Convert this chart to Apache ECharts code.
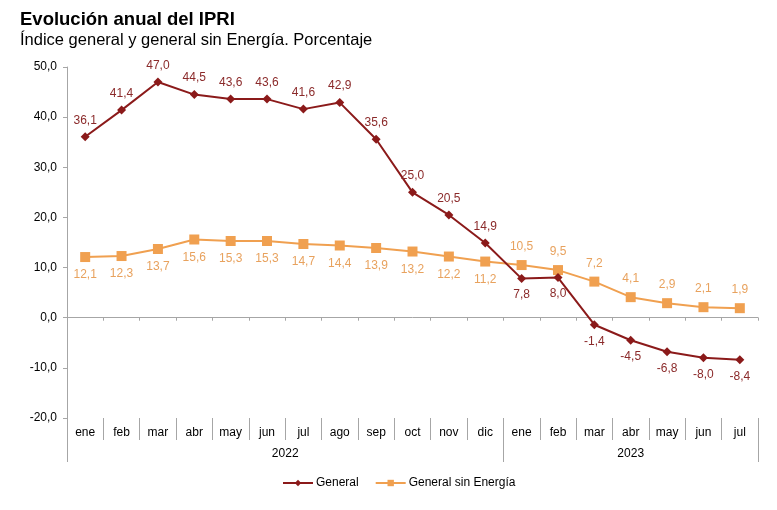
<!DOCTYPE html>
<html>
<head>
<meta charset="utf-8">
<script src="https://cdn.jsdelivr.net/npm/echarts@6/dist/echarts.min.js"></script>
<style>
  html, body { margin: 0; padding: 0; background: #fff; }
  #chart { width: 777px; height: 510px; }
</style>
</head>
<body>
<div id="chart"></div>
<script>
// meses y valores (tasa anual, %)
let months = ['ene','feb','mar','abr','may','jun','jul','ago','sep','oct','nov','dic',
              'ene','feb','mar','abr','may','jun','jul'];
let years = [{ name: '2022', from: 0, to: 12 }, { name: '2023', from: 12, to: 19 }];
let general = [36.1, 41.4, 47.0, 44.5, 43.6, 43.6, 41.6, 42.9, 35.6, 25.0, 20.5, 14.9,
               7.8, 8.0, -1.4, -4.5, -6.8, -8.0, -8.4];
let sinEnergia = [12.1, 12.3, 13.7, 15.6, 15.3, 15.3, 14.7, 14.4, 13.9, 13.2, 12.2, 11.2,
                  10.5, 9.5, 7.2, 4.1, 2.9, 2.1, 1.9];
let yTicks = { min: -20, max: 50, step: 10 };

const RED = '#8B1A1A';
const ORANGE = '#F0A050';
const FONT = '"Liberation Sans", Arial, sans-serif';

let fmt = v => v.toFixed(1).replace('.', ',');

// etiquetas: General abajo si cae, sin Energía abajo en 2022
let generalData = general.map((v, i) => ({
    value: v,
    label: { position: i >= 12 ? 'bottom' : 'top' }
}));
let sinData = sinEnergia.map((v, i) => ({
    value: v,
    label: { position: i < 12 ? 'bottom' : 'top' }
}));

let yearBounds = [];
years.forEach(y => { if (!yearBounds.includes(y.from)) yearBounds.push(y.from); yearBounds.push(y.to); });

let chart = echarts.init(document.getElementById('chart'), null, { renderer: 'canvas' });

chart.setOption({
    animation: false,
    backgroundColor: '#fff',
    textStyle: { fontFamily: FONT },
    title: {
        text: 'Evolución anual del IPRI',
        subtext: 'Índice general y general sin Energía. Porcentaje',
        left: 15,
        top: 5,
        itemGap: 3,
        textStyle: { fontFamily: FONT, fontSize: 18.5, fontWeight: 'bold', color: '#000' },
        subtextStyle: { fontFamily: FONT, fontSize: 16.5, color: '#000' }
    },
    legend: {
        left: 277,
        top: 472,
        itemWidth: 30,
        itemHeight: 8,
        itemGap: 16,
        textStyle: { fontFamily: FONT, fontSize: 12, color: '#000', padding: [0, 0, 0, -2] },
        data: ['General', 'General sin Energía']
    },
    grid: { left: 67, right: 19, top: 67, bottom: 92 },
    xAxis: [
        {
            // linea del cero
            type: 'category',
            data: months,
            boundaryGap: true,
            axisLine: { onZero: true, lineStyle: { color: '#A6A6A6', width: 1 } },
            axisTick: { show: true, length: 3, lineStyle: { color: '#A6A6A6' } },
            axisLabel: { show: false },
            splitLine: { show: false }
        },
        {
            // meses abajo
            type: 'category',
            data: months,
            position: 'bottom',
            boundaryGap: true,
            axisLine: { show: false, onZero: false },
            axisTick: { show: true, length: 22, lineStyle: { color: '#A6A6A6' } },
            axisLabel: { fontFamily: FONT, fontSize: 12, color: '#000', margin: 9, interval: 0 },
            splitLine: { show: false }
        },
        {
            // años
            type: 'value',
            min: 0,
            max: months.length,
            position: 'bottom',
            axisLine: { show: false, onZero: false },
            axisTick: { show: true, length: 44, customValues: yearBounds, lineStyle: { color: '#A6A6A6' } },
            axisLabel: {
                fontFamily: FONT, fontSize: 12, color: '#000', margin: 30,
                customValues: years.map(y => (y.from + y.to) / 2),
                formatter: v => {
                    let y = years.find(y => (y.from + y.to) / 2 === v);
                    return y ? y.name : '';
                }
            },
            splitLine: { show: false }
        }
    ],
    yAxis: {
        type: 'value',
        min: yTicks.min,
        max: yTicks.max,
        interval: yTicks.step,
        axisLine: { show: true, lineStyle: { color: '#A6A6A6' } },
        axisTick: { show: true, length: 4, lineStyle: { color: '#A6A6A6' } },
        axisLabel: { fontFamily: FONT, fontSize: 12, color: '#000', margin: 10, formatter: fmt },
        splitLine: { show: false }
    },
    series: [
        {
            name: 'General',
            type: 'line',
            xAxisIndex: 0,
            data: generalData,
            color: RED,
            symbol: 'diamond',
            symbolSize: 9,
            lineStyle: { width: 2, color: RED },
            itemStyle: { color: RED },
            label: {
                show: true, distance: 6, fontFamily: FONT, fontSize: 12, color: '#8B2A2A',
                formatter: p => fmt(p.value)
            },
            z: 3
        },
        {
            name: 'General sin Energía',
            type: 'line',
            xAxisIndex: 0,
            data: sinData,
            color: ORANGE,
            symbol: 'rect',
            symbolSize: 10,
            lineStyle: { width: 2, color: ORANGE },
            itemStyle: { color: ORANGE },
            label: {
                show: true, distance: 7, fontFamily: FONT, fontSize: 12, color: '#E8A25E',
                formatter: p => fmt(p.value)
            },
            z: 2
        }
    ]
});
</script>
</body>
</html>
